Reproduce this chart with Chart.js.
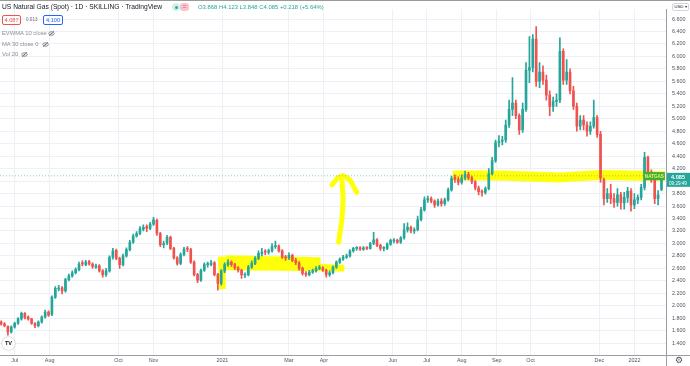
<!DOCTYPE html>
<html>
<head>
<meta charset="utf-8">
<script src="https://cdn.jsdelivr.net/npm/chart.js@4.4.1/dist/chart.umd.min.js"></script>
<style>
    html, body { margin: 0; padding: 0; background: #fff; }
    #wrap { position: relative; width: 690px; height: 366px; overflow: hidden; font-family: 'Liberation Sans', Arial, sans-serif; }
    #chart { position: absolute; left: 0; top: 0; }
    .t { position: absolute; white-space: nowrap; line-height: 1; }
    .box { position: absolute; box-sizing: border-box; border-radius: 2px; text-align: center; line-height: 8px; font-size: 5.6px; }
    .eye { position: absolute; width: 7px; height: 7px; }
</style>
</head>
<body>
<div id="wrap">
    <canvas id="chart" width="690" height="366"></canvas>
    <div style="position:absolute;left:0;top:0;width:690px;height:1px;background:#9a9a9a"></div>

    <div class="t" style="left:2px;top:4px;font-size:6.7px;color:#131722">US Natural Gas (Spot) · 1D · SKILLING · TradingView</div>
    <div style="position:absolute;left:172px;top:3px;width:8px;height:8px;border-radius:4px;background:#d3efec"></div>
    <div style="position:absolute;left:174.5px;top:5.5px;width:3px;height:3px;border-radius:2px;background:#26a69a"></div>
    <div class="t" style="left:180px;top:3px;width:9px;height:8px;border-radius:3px;background:#f8c4cf;color:#ef5350;font-size:7px;text-align:center;line-height:8px">=</div>
    <div class="t" style="left:198px;top:4.5px;font-size:5.9px;color:#26a69a">O3.868 H4.123 L3.848 C4.085 +0.218 (+5.64%)</div>

    <div class="box" style="left:2px;top:15px;width:19px;height:10px;border:1px solid #ef5350;color:#ef5350">4.087</div>
    <div class="t" style="left:26px;top:18px;font-size:4.6px;color:#6a6d78">0.013</div>
    <div class="box" style="left:43px;top:15px;width:20px;height:10px;border:1px solid #2962ff;color:#2962ff">4.100</div>

    <div class="t" style="left:2px;top:31px;font-size:5.8px;color:#8a8d96">EVWMA 10 close</div>
    <svg class="eye" style="left:48px;top:30px" viewBox="0 0 14 14"><ellipse cx="7" cy="7" rx="5.5" ry="3.6" fill="none" stroke="#6a6d78" stroke-width="1.5"/><circle cx="7" cy="7" r="1.7" fill="#6a6d78"/><line x1="2" y1="12" x2="12" y2="2" stroke="#6a6d78" stroke-width="1.5"/></svg>
    <div class="t" style="left:2px;top:42px;font-size:5.8px;color:#8a8d96">MA 30 close 0</div>
    <svg class="eye" style="left:42px;top:41px" viewBox="0 0 14 14"><ellipse cx="7" cy="7" rx="5.5" ry="3.6" fill="none" stroke="#6a6d78" stroke-width="1.5"/><circle cx="7" cy="7" r="1.7" fill="#6a6d78"/><line x1="2" y1="12" x2="12" y2="2" stroke="#6a6d78" stroke-width="1.5"/></svg>
    <div class="t" style="left:2px;top:52px;font-size:5.8px;color:#8a8d96">Vol 20</div>
    <svg class="eye" style="left:21px;top:51px" viewBox="0 0 14 14"><ellipse cx="7" cy="7" rx="5.5" ry="3.6" fill="none" stroke="#6a6d78" stroke-width="1.5"/><circle cx="7" cy="7" r="1.7" fill="#6a6d78"/><line x1="2" y1="12" x2="12" y2="2" stroke="#6a6d78" stroke-width="1.5"/></svg>

    <div class="box" style="left:672px;top:3px;width:17px;height:8px;border:1px solid #d1d4dc;background:#fff;color:#131722;font-size:4.4px;line-height:6px">USD ▾</div>
    <div class="t" style="left:2px;top:337px;width:13px;height:13px;border-radius:7px;background:#fff;box-shadow:0 0 2px rgba(0,0,0,0.35);font-size:5.6px;font-weight:bold;color:#131722;text-align:center;line-height:13px">TV</div>
    <div class="t" style="left:675px;top:356px;font-size:9px;color:#50535e;font-family:'DejaVu Sans'">⚙</div>
</div>
<script>
// daily-ish candles (every third calendar day)
const dates = [
    '2020-06-19','2020-06-22','2020-06-25','2020-06-28','2020-07-01','2020-07-04','2020-07-07','2020-07-10','2020-07-13','2020-07-16',
    '2020-07-19','2020-07-22','2020-07-25','2020-07-28','2020-07-31','2020-08-03','2020-08-06','2020-08-09','2020-08-12','2020-08-15',
    '2020-08-18','2020-08-21','2020-08-24','2020-08-27','2020-08-30','2020-09-02','2020-09-05','2020-09-08','2020-09-11','2020-09-14',
    '2020-09-17','2020-09-20','2020-09-23','2020-09-26','2020-09-29','2020-10-02','2020-10-05','2020-10-08','2020-10-11','2020-10-14',
    '2020-10-17','2020-10-20','2020-10-23','2020-10-26','2020-10-29','2020-11-01','2020-11-04','2020-11-07','2020-11-10','2020-11-13',
    '2020-11-16','2020-11-19','2020-11-22','2020-11-25','2020-11-28','2020-12-01','2020-12-04','2020-12-07','2020-12-10','2020-12-13',
    '2020-12-16','2020-12-19','2020-12-22','2020-12-25','2020-12-28','2020-12-31','2021-01-03','2021-01-06','2021-01-09','2021-01-12',
    '2021-01-15','2021-01-18','2021-01-21','2021-01-24','2021-01-27','2021-01-30','2021-02-02','2021-02-05','2021-02-08','2021-02-11',
    '2021-02-14','2021-02-17','2021-02-20','2021-02-23','2021-02-26','2021-03-01','2021-03-04','2021-03-07','2021-03-10','2021-03-13',
    '2021-03-16','2021-03-19','2021-03-22','2021-03-25','2021-03-28','2021-03-31','2021-04-03','2021-04-06','2021-04-09','2021-04-12',
    '2021-04-15','2021-04-18','2021-04-21','2021-04-24','2021-04-27','2021-04-30','2021-05-03','2021-05-06','2021-05-09','2021-05-12',
    '2021-05-15','2021-05-18','2021-05-21','2021-05-24','2021-05-27','2021-05-30','2021-06-02','2021-06-05','2021-06-08','2021-06-11',
    '2021-06-14','2021-06-17','2021-06-20','2021-06-23','2021-06-26','2021-06-29','2021-07-02','2021-07-05','2021-07-08','2021-07-11',
    '2021-07-14','2021-07-17','2021-07-20','2021-07-23','2021-07-26','2021-07-29','2021-08-01','2021-08-04','2021-08-07','2021-08-10',
    '2021-08-13','2021-08-16','2021-08-19','2021-08-22','2021-08-25','2021-08-28','2021-08-31','2021-09-03','2021-09-06','2021-09-09',
    '2021-09-12','2021-09-15','2021-09-18','2021-09-21','2021-09-24','2021-09-27','2021-09-30','2021-10-03','2021-10-06','2021-10-09',
    '2021-10-12','2021-10-15','2021-10-18','2021-10-21','2021-10-24','2021-10-27','2021-10-30','2021-11-02','2021-11-05','2021-11-08',
    '2021-11-11','2021-11-14','2021-11-17','2021-11-20','2021-11-23','2021-11-26','2021-11-29','2021-12-02','2021-12-05','2021-12-08',
    '2021-12-11','2021-12-14','2021-12-17','2021-12-20','2021-12-23','2021-12-26','2021-12-29','2022-01-01','2022-01-04','2022-01-07',
    '2022-01-10','2022-01-13','2022-01-16','2022-01-19','2022-01-22','2022-01-25'
];

const opens = [
    1.74,1.71,1.67,1.58,1.66,1.72,1.79,1.88,1.82,1.79,
    1.72,1.68,1.74,1.82,1.90,1.86,2.14,2.27,2.29,2.24,
    2.42,2.48,2.53,2.58,2.69,2.66,2.71,2.67,2.62,2.64,
    2.56,2.50,2.56,2.78,2.89,2.76,2.66,2.80,2.90,3.02,
    3.12,3.16,3.23,3.27,3.24,3.31,3.37,3.16,2.98,3.01,
    3.10,2.92,2.77,2.68,2.82,2.92,2.90,2.70,2.50,2.41,
    2.57,2.66,2.66,2.69,2.50,2.36,2.56,2.66,2.70,2.66,
    2.61,2.57,2.49,2.50,2.62,2.68,2.76,2.84,2.87,2.86,
    2.88,2.95,2.96,2.88,2.78,2.77,2.81,2.73,2.69,2.60,
    2.52,2.50,2.54,2.56,2.60,2.61,2.57,2.50,2.53,2.62,
    2.70,2.75,2.78,2.80,2.88,2.92,2.93,2.91,2.93,2.92,
    3.00,3.06,2.97,2.92,2.92,2.99,3.04,3.05,3.02,3.09,
    3.22,3.26,3.20,3.22,3.38,3.54,3.70,3.72,3.68,3.62,
    3.68,3.64,3.70,3.86,4.06,4.03,3.98,4.05,4.11,4.05,
    3.99,3.89,3.83,3.82,3.88,4.12,4.33,4.62,4.64,4.66,
    4.90,5.15,5.25,5.05,4.82,5.15,5.78,5.82,6.28,5.60,
    5.75,5.62,5.38,5.20,5.28,5.30,6.08,5.62,5.75,5.45,
    5.20,4.88,4.98,4.90,4.80,4.88,5.02,4.75,4.02,3.72,
    3.80,3.72,3.66,3.78,3.65,3.74,3.84,3.62,3.70,3.74,
    3.90,4.38,4.14,4.02,3.72,3.868
];
const highs = [
    1.76,1.73,1.68,1.68,1.74,1.81,1.90,1.89,1.84,1.80,
    1.73,1.76,1.84,1.93,1.92,2.16,2.31,2.33,2.31,2.44,
    2.51,2.56,2.61,2.70,2.72,2.73,2.73,2.69,2.67,2.66,
    2.58,2.60,2.80,2.92,2.91,2.78,2.83,2.93,3.05,3.15,
    3.19,3.27,3.30,3.30,3.34,3.42,3.39,3.18,3.04,3.13,
    3.12,2.94,2.79,2.85,2.94,2.95,2.92,2.72,2.52,2.59,
    2.69,2.70,2.73,2.71,2.52,2.58,2.69,2.74,2.72,2.68,
    2.63,2.59,2.53,2.65,2.72,2.79,2.88,2.92,2.90,2.91,
    3.00,3.04,2.98,2.90,2.81,2.85,2.83,2.76,2.71,2.62,
    2.55,2.57,2.59,2.63,2.65,2.63,2.59,2.56,2.64,2.72,
    2.77,2.81,2.83,2.90,2.94,2.95,2.95,2.95,2.95,3.02,
    3.18,3.08,2.99,2.95,3.01,3.07,3.08,3.07,3.11,3.32,
    3.33,3.28,3.25,3.44,3.58,3.75,3.76,3.75,3.70,3.71,
    3.72,3.73,3.89,4.08,4.10,4.07,4.10,4.16,4.14,4.08,
    4.01,3.92,3.86,3.91,4.20,4.38,4.66,4.73,4.72,4.98,
    5.30,5.66,5.30,5.08,5.25,5.90,6.32,6.35,6.48,5.90,
    5.85,5.70,5.45,5.35,5.40,6.30,6.12,5.95,5.80,5.52,
    5.25,5.05,5.05,4.95,4.95,5.30,5.05,4.80,4.05,3.88,
    3.95,3.80,3.88,3.82,3.82,3.90,3.88,3.80,3.78,3.95,
    4.46,4.40,4.18,4.05,3.85,4.123
];
const lows = [
    1.69,1.66,1.53,1.56,1.64,1.70,1.77,1.79,1.77,1.70,
    1.65,1.66,1.72,1.80,1.83,1.84,2.12,2.24,2.19,2.22,
    2.40,2.46,2.51,2.56,2.64,2.64,2.65,2.60,2.60,2.54,
    2.46,2.47,2.54,2.75,2.74,2.60,2.64,2.78,2.88,3.00,
    3.10,3.14,3.20,3.19,3.22,3.29,3.13,2.95,2.93,2.98,
    2.90,2.75,2.65,2.66,2.80,2.87,2.68,2.48,2.37,2.39,
    2.55,2.62,2.64,2.48,2.25,2.33,2.53,2.63,2.63,2.58,
    2.54,2.44,2.45,2.48,2.60,2.66,2.74,2.80,2.82,2.83,
    2.86,2.92,2.86,2.76,2.73,2.74,2.71,2.66,2.57,2.49,
    2.47,2.48,2.52,2.54,2.58,2.55,2.46,2.47,2.51,2.60,
    2.68,2.73,2.76,2.78,2.86,2.89,2.89,2.89,2.90,2.91,
    2.98,2.95,2.89,2.88,2.90,2.97,3.01,3.00,3.00,3.07,
    3.18,3.17,3.16,3.20,3.36,3.52,3.66,3.65,3.58,3.60,
    3.60,3.61,3.68,3.84,3.98,3.94,3.95,4.02,4.02,3.96,
    3.86,3.78,3.76,3.79,3.86,4.10,4.30,4.55,4.58,4.62,
    4.86,5.05,5.00,4.75,4.78,5.12,5.58,5.75,5.52,5.50,
    5.55,5.30,5.05,5.12,5.20,5.26,5.55,5.55,5.40,5.15,
    4.80,4.82,4.82,4.72,4.75,4.85,4.70,3.98,3.62,3.66,
    3.64,3.58,3.60,3.55,3.55,3.66,3.52,3.56,3.64,3.70,
    3.86,4.10,3.98,3.64,3.62,3.848
];
const closes = [
    1.71,1.68,1.58,1.66,1.72,1.79,1.88,1.81,1.79,1.72,
    1.68,1.74,1.82,1.90,1.85,2.14,2.28,2.28,2.24,2.42,
    2.48,2.53,2.58,2.67,2.67,2.70,2.67,2.63,2.64,2.56,
    2.50,2.56,2.78,2.88,2.76,2.66,2.80,2.90,3.02,3.12,
    3.16,3.24,3.26,3.24,3.31,3.38,3.16,2.98,3.00,3.10,
    2.92,2.77,2.68,2.82,2.91,2.91,2.70,2.50,2.41,2.57,
    2.66,2.67,2.69,2.50,2.36,2.56,2.66,2.70,2.66,2.61,
    2.57,2.50,2.50,2.62,2.68,2.76,2.84,2.86,2.86,2.88,
    2.95,2.96,2.88,2.78,2.77,2.81,2.73,2.69,2.60,2.52,
    2.50,2.54,2.56,2.60,2.61,2.57,2.50,2.53,2.62,2.70,
    2.75,2.78,2.80,2.88,2.92,2.92,2.91,2.93,2.92,3.00,
    3.06,2.97,2.92,2.92,2.99,3.05,3.05,3.02,3.09,3.22,
    3.26,3.20,3.22,3.38,3.54,3.70,3.72,3.68,3.62,3.68,
    3.64,3.70,3.86,4.04,4.03,3.98,4.05,4.11,4.05,3.99,
    3.89,3.83,3.82,3.88,4.12,4.33,4.62,4.64,4.66,4.90,
    5.15,5.25,5.05,4.82,5.15,5.78,5.82,6.28,5.60,5.75,
    5.62,5.38,5.20,5.28,5.30,6.08,5.62,5.75,5.45,5.20,
    4.88,4.98,4.90,4.80,4.88,5.02,4.75,4.05,3.72,3.80,
    3.72,3.66,3.78,3.65,3.74,3.84,3.62,3.70,3.74,3.90,
    4.38,4.14,4.02,3.72,3.78,4.085
];

const priceTicks = [1.4,1.6,1.8,2.0,2.2,2.4,2.6,2.8,3.0,3.2,3.4,3.6,3.8,4.0,4.2,4.4,4.6,4.8,5.0,5.2,5.4,5.6,5.8,6.0,6.2,6.4,6.6];
const monthTickDates = ['2020-07-01','2020-08-01','2020-10-01','2020-11-01','2021-01-01','2021-03-01','2021-04-01',
    '2021-06-01','2021-07-01','2021-08-01','2021-09-01','2021-10-01','2021-12-01','2022-01-01'];
const monthTickLabels = ['Jul','Aug','Oct','Nov','2021','Mar','Apr','Jun','Jul','Aug','Sep','Oct','Dec','2022'];

// hand drawn highlighter marks, as [date, price]
const bandStub = [['2020-12-28',2.79],['2021-01-04',2.79],['2021-01-04',2.27],['2020-12-29',2.26]];
const bandJanApr = [['2021-01-04',2.81],['2021-03-29',2.78],['2021-03-29',2.67],['2021-04-19',2.66],['2021-04-19',2.55],['2021-01-04',2.57]];
const arrowStem = [['2021-04-14',3.02],['2021-04-17',3.40],['2021-04-18',3.72],['2021-04-17',4.01]];
const arrowHead = [['2021-04-08',3.94],['2021-04-13',4.05],['2021-04-18',4.09],['2021-04-24',4.02],['2021-04-30',3.82]];
const bandSupport = [['2021-07-24',4.09],['2021-09-04',4.09],['2021-10-27',4.06],['2021-12-02',4.10],['2022-01-28',4.08]];

const symbolName = 'NATGAS';
const countdown = '09:29:49';
const lastClose = closes[closes.length - 1];

const UP = '#26a69a';
const DOWN = '#ef5350';
const HILITE = 'rgba(255, 255, 0, 0.96)';
const GRID = '#edf1f6';
const AXIS = '#9a9da6';

const DAY0 = Date.parse('2020-06-18');
const dayOf = s => (Date.parse(s) - DAY0) / 864e5;
const xMin = dayOf('2020-06-18');
const xMax = dayOf('2022-01-29');
const priceMin = 1.211;
const priceMax = 6.757;

const candleColors = closes.map((c, i) => c >= opens[i] ? UP : DOWN);

const toPx = (chart, pt) => [chart.scales.x.getPixelForValue(dayOf(pt[0])), chart.scales.y.getPixelForValue(pt[1])];

function tracePath(chart, pts) {
    const ctx = chart.ctx;
    ctx.beginPath();
    pts.forEach((pt, i) => {
        const [x, y] = toPx(chart, pt);
        if (i === 0) {
            ctx.moveTo(x, y);
        } else {
            ctx.lineTo(x, y);
        }
    });
}

const drawings = {
    id: 'drawings',
    beforeDatasetsDraw(chart) {
        const ctx = chart.ctx;
        ctx.save();
        ctx.fillStyle = HILITE;
        ctx.strokeStyle = HILITE;
        [bandStub, bandJanApr].forEach(poly => {
            tracePath(chart, poly);
            ctx.closePath();
            ctx.fill();
        });
        ctx.lineCap = 'round';
        ctx.lineJoin = 'round';
        ctx.lineWidth = 5;
        tracePath(chart, arrowStem);
        ctx.stroke();
        tracePath(chart, arrowHead);
        ctx.stroke();
        ctx.lineCap = 'butt';
        ctx.lineWidth = 10;
        tracePath(chart, bandSupport);
        ctx.stroke();
        ctx.restore();
    },
    afterDraw(chart) {
        const ctx = chart.ctx;
        const area = chart.chartArea;
        ctx.save();
        // axis lines run on into the corner
        ctx.strokeStyle = AXIS;
        ctx.lineWidth = 1;
        ctx.beginPath();
        ctx.moveTo(area.right, area.bottom + 0.5);
        ctx.lineTo(chart.width, area.bottom + 0.5);
        ctx.moveTo(area.right + 0.5, area.bottom);
        ctx.lineTo(area.right + 0.5, chart.height);
        ctx.stroke();

        // symbol tag at the end of the support band
        const end = toPx(chart, bandSupport[bandSupport.length - 1]);
        ctx.fillStyle = '#3fae3a';
        ctx.fillRect(end[0] - 21, end[1] - 4, 21, 8);
        ctx.fillStyle = '#e8f56a';
        ctx.font = 'bold 4.6px "Liberation Sans"';
        ctx.textAlign = 'center';
        ctx.textBaseline = 'middle';
        ctx.fillText(symbolName, end[0] - 10.5, end[1] + 0.3);

        // last price label on the price axis
        const y = chart.scales.y.getPixelForValue(lastClose);
        ctx.fillStyle = UP;
        ctx.fillRect(area.right + 1, y - 3, chart.width - area.right - 1, 14);
        ctx.fillStyle = '#fff';
        ctx.textAlign = 'left';
        ctx.font = 'bold 5.6px "Liberation Sans"';
        ctx.fillText(lastClose.toFixed(3), area.right + 5, y + 1.5);
        ctx.font = '4.6px "Liberation Sans"';
        ctx.fillText(countdown, area.right + 3, y + 7.8);
        ctx.restore();
    }
};

const ctx = document.getElementById('chart').getContext('2d');
const chart = new Chart(ctx, {
    type: 'bar',
    data: {
        datasets: [{
            type: 'line',
            data: [{x: xMin, y: lastClose}, {x: xMax, y: lastClose}],
            borderColor: 'rgba(38, 166, 154, 0.55)',
            borderWidth: 1,
            borderDash: [1, 2],
            pointRadius: 0,
            order: 3
        }, {
            data: dates.map((d, i) => ({x: dayOf(d), y: [lows[i], highs[i]]})),
            backgroundColor: candleColors,
            barThickness: 1,
            minBarLength: 1,
            grouped: false,
            order: 2
        }, {
            data: dates.map((d, i) => ({x: dayOf(d), y: [opens[i], closes[i]]})),
            backgroundColor: candleColors,
            barThickness: 2,
            minBarLength: 1,
            grouped: false,
            order: 1
        }]
    },
    options: {
        responsive: false,
        animation: false,
        devicePixelRatio: 1,
        layout: {padding: {top: 2, left: 0, right: 0, bottom: 0}},
        plugins: {
            legend: {display: false},
            tooltip: {enabled: false}
        },
        scales: {
            x: {
                type: 'linear',
                min: xMin,
                max: xMax,
                offset: false,
                afterBuildTicks: scale => {
                    scale.ticks = monthTickDates.map(d => ({value: dayOf(d)}));
                },
                afterFit: scale => {
                    scale.height = 11;
                },
                ticks: {
                    autoSkip: false,
                    maxRotation: 0,
                    padding: 2,
                    color: '#50535e',
                    font: {family: 'Liberation Sans', size: 5.4},
                    callback: (value, index) => monthTickLabels[index]
                },
                grid: {color: GRID, drawTicks: false, offset: false},
                border: {color: AXIS}
            },
            y: {
                position: 'right',
                min: priceMin,
                max: priceMax,
                afterBuildTicks: scale => {
                    scale.ticks = priceTicks.map(v => ({value: v}));
                },
                afterFit: scale => {
                    scale.width = 24;
                },
                ticks: {
                    padding: 6,
                    color: '#50535e',
                    font: {family: 'Liberation Sans', size: 5.4},
                    callback: value => value.toFixed(3)
                },
                grid: {color: GRID, drawTicks: false},
                border: {color: AXIS}
            }
        }
    },
    plugins: [drawings]
});
</script>
</body>
</html>
